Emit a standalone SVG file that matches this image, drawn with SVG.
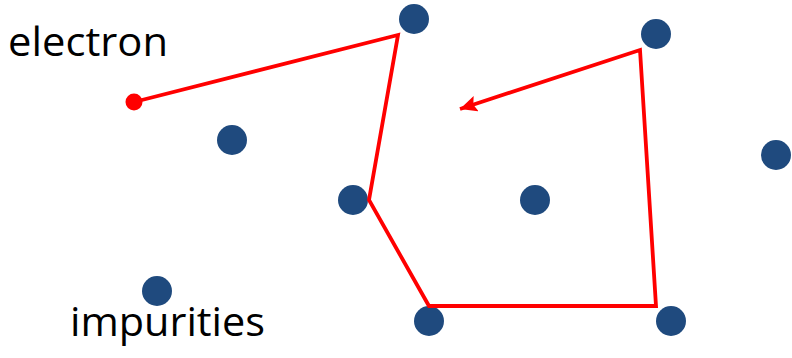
<svg xmlns="http://www.w3.org/2000/svg" width="792" height="358" viewBox="0 0 792 358">
<style>
.imp{fill:#1f4a7e}
.lbl{font-family:"Open Sans","Liberation Sans",sans-serif;font-size:41px;fill:#000}
.path{fill:none;stroke:#ff0000;stroke-width:3.8;stroke-linejoin:miter}
</style>
<defs>
<marker id="ah" markerUnits="userSpaceOnUse" markerWidth="22" markerHeight="18" refX="17" refY="8" orient="auto">
<path d="M0,0 L17,8 L0,16 L3,8 Z" fill="#ff0000"/>
</marker>
</defs>
<rect width="792" height="358" fill="#fff"/>
<g id="impurities-dots">
<circle class="imp" cx="414" cy="19" r="15"/>
<circle class="imp" cx="656" cy="34" r="15"/>
<circle class="imp" cx="232" cy="140" r="15"/>
<circle class="imp" cx="776" cy="155" r="15"/>
<circle class="imp" cx="353" cy="200" r="15"/>
<circle class="imp" cx="535" cy="200" r="15"/>
<circle class="imp" cx="157" cy="291" r="15"/>
<circle class="imp" cx="429" cy="321" r="15"/>
<circle class="imp" cx="671" cy="321" r="15"/>
</g>
<g id="connectors">
<polyline class="path" points="134,102 398,35 369,200 429,306 656,306 640,50 460,109" marker-end="url(#ah)"/>
</g>
<g id="electron">
<circle cx="134" cy="102" r="8.5" fill="#ff0000"/>
</g>
<g id="labels">
<text class="lbl" x="8" y="56" textLength="160" lengthAdjust="spacingAndGlyphs">electron</text>
<text class="lbl" x="70" y="336" textLength="195" lengthAdjust="spacingAndGlyphs">impurities</text>
</g>
</svg>
